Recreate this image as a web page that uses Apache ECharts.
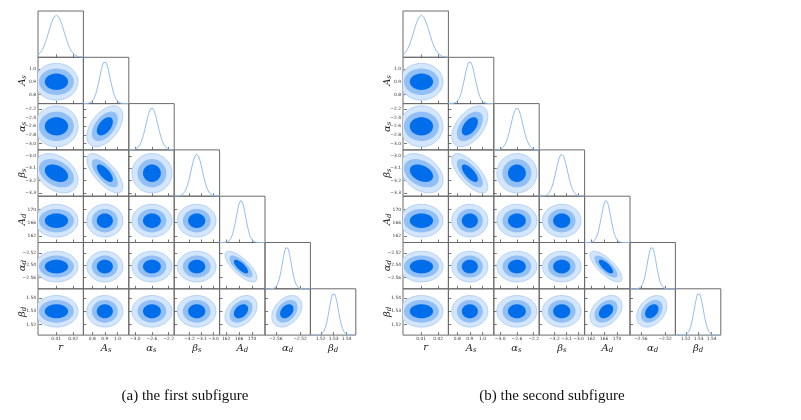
<!DOCTYPE html>
<html>
<head>
<meta charset="utf-8">
<script src="https://cdn.jsdelivr.net/npm/echarts@6/dist/echarts.min.js"></script>
<style>
html, body { margin: 0; padding: 0; background: #fff; }
#chart { width: 801px; height: 420px; }
</style>
</head>
<body>
<div id="chart"></div>
<script>
// parameters: r, A_s, alpha_s, beta_s, A_d, alpha_d, beta_d
var paramLabels = ['{m|r}', '{m|A}{s|s}', '{m|α}{s|s}', '{m|β}{s|s}', '{m|A}{s|d}', '{m|α}{s|d}', '{m|β}{s|d}'];
var axisMin = [-0.0006, 0.73, -3.15, -3.327, 160, -2.578, 1.512];
var axisMax = [0.026, 1.09, -2.07, -2.95, 174, -2.503, 1.547];
var means = [0.0102, 0.9, -2.6, -3.14, 166.6, -2.542, 1.53];
var sigmas = [0.0045, 0.042, 0.14, 0.047, 1.45, 0.0073, 0.0035];
// lower triangle of the correlation matrix
var corrRows = [
    [1],
    [0, 1],
    [0, 0.5, 1],
    [-0.35, -0.7, 0, 1],
    [0, 0, 0, 0, 1],
    [0, 0, 0, 0, -0.75, 1],
    [0, 0, 0, 0, 0.35, 0.35, 1]
];
// contour half-widths in sigma units (outer 99.7%, 95%, inner 68%) per parameter
var contourK = [
    [2.8, 2.27, 1.515],
    [3.4, 2.45, 1.515],
    [3.4, 2.45, 1.515],
    [3.4, 2.45, 1.515],
    [3.4, 2.45, 1.515],
    [3.4, 2.45, 1.515],
    [3.4, 2.45, 1.515]
];
var xTicks = [[0.01, 0.02], [0.8, 0.9, 1.0], [-3.0, -2.6, -2.2], [-3.2, -3.1, -3.0], [162, 166, 170], [-2.56, -2.52], [1.52, 1.53, 1.54]];
var yTicks = [[], [0.8, 0.9, 1.0], [-3.0, -2.8, -2.6, -2.4, -2.2], [-3.3, -3.2, -3.1, -3.0], [162, 166, 170], [-2.56, -2.54, -2.52], [1.52, 1.53, 1.54]];
var tickDecimals = [2, 1, 1, 1, 0, 2, 2];
var contourColors = ['#d4e6fb', '#92bff5', '#006eeb'];
var captions = ['(a) the first subfigure', '(b) the second subfigure'];
var captionX = [185, 552];

var subLeft = [38, 403];
var panelTop = 11;
var panelW = 45.4;
var panelH = 46.3;
var nParams = means.length;

var nameRich = {
    m: { fontFamily: 'DejaVu Serif', fontStyle: 'italic', fontSize: 10, color: '#222' },
    s: { fontFamily: 'DejaVu Serif', fontStyle: 'italic', fontSize: 7, color: '#222', padding: [5, 0, 0, 0] }
};

function fmt(dec) {
    return function (v) { return v.toFixed(dec).replace('-', '\u2212'); };
}

function gauss1d(p) {
    var pts = [];
    var steps = 120;
    for (var k = 0; k <= steps; k++) {
        var x = axisMin[p] + (axisMax[p] - axisMin[p]) * k / steps;
        var z = (x - means[p]) / sigmas[p];
        pts.push([x, Math.exp(-0.5 * z * z)]);
    }
    return pts;
}

function contourRenderer(px, py) {
    var rho = corrRows[py][px];
    return function (params, api) {
        var lv = params.dataIndex;
        var kx = contourK[px][lv], ky = contourK[py][lv];
        var pts = [];
        for (var t = 0; t < 90; t++) {
            var th = t / 90 * Math.PI * 2;
            var u = Math.cos(th), w = Math.sin(th);
            var x = means[px] + kx * sigmas[px] * u;
            var y = means[py] + ky * sigmas[py] * (rho * u + Math.sqrt(1 - rho * rho) * w);
            pts.push(api.coord([x, y]));
        }
        return {
            type: 'polygon',
            shape: { points: pts },
            style: {
                fill: contourColors[lv],
                stroke: lv === 0 ? '#a2c8f5' : null,
                lineWidth: 0.8
            }
        };
    };
}

var grids = [], xAxes = [], yAxes = [], series = [], graphics = [];

for (var f = 0; f < 2; f++) {
    for (var i = 0; i < nParams; i++) {
        for (var j = 0; j <= i; j++) {
            var g = grids.length;
            grids.push({
                left: subLeft[f] + j * panelW,
                top: panelTop + i * panelH,
                width: panelW,
                height: panelH,
                show: true,
                borderColor: '#6a6a6a',
                borderWidth: 1,
                backgroundColor: 'transparent'
            });
            var bottomRow = i === nParams - 1;
            xAxes.push({
                type: 'value', gridIndex: g, min: axisMin[j], max: axisMax[j],
                axisLine: { show: false },
                splitLine: { show: false },
                axisTick: { show: true, inside: true, length: 3, customValues: xTicks[j], lineStyle: { color: '#555', width: 0.8 } },
                axisLabel: { show: bottomRow, customValues: xTicks[j], formatter: fmt(tickDecimals[j]), fontSize: 4.4, color: '#333', margin: 2, fontFamily: 'DejaVu Sans' },
                name: bottomRow ? paramLabels[j] : '',
                nameLocation: 'middle', nameGap: 7, nameMoveOverlap: false,
                nameTextStyle: { rich: nameRich, verticalAlign: 'top' }
            });
            if (i === j) {
                yAxes.push({ type: 'value', gridIndex: g, min: 0, max: 1.1, show: false });
                series.push({
                    type: 'line', xAxisIndex: g, yAxisIndex: g,
                    data: gauss1d(j), symbol: 'none', silent: true,
                    lineStyle: { color: '#8fbcf3', width: 1 }
                });
            } else {
                var leftCol = j === 0;
                yAxes.push({
                    type: 'value', gridIndex: g, min: axisMin[i], max: axisMax[i],
                    axisLine: { show: false },
                    splitLine: { show: false },
                    axisTick: { show: true, inside: true, length: 3, customValues: yTicks[i], lineStyle: { color: '#555', width: 0.8 } },
                    axisLabel: { show: leftCol, customValues: yTicks[i], formatter: fmt(tickDecimals[i]), fontSize: 4.4, color: '#333', margin: 2, fontFamily: 'DejaVu Sans' },
                    name: leftCol ? paramLabels[i] : '',
                    nameLocation: 'middle', nameRotate: 90, nameGap: 10, nameMoveOverlap: false,
                    nameTextStyle: { rich: nameRich }
                });
                series.push({
                    type: 'custom', xAxisIndex: g, yAxisIndex: g, clip: true, silent: true,
                    data: contourColors.map(function (c, idx) { return [idx]; }),
                    renderItem: contourRenderer(j, i)
                });
            }
        }
    }
    graphics.push({
        type: 'text', x: captionX[f], y: 396,
        style: { text: captions[f], font: '15px "Liberation Serif"', fill: '#111', textAlign: 'center', textVerticalAlign: 'middle' }
    });
}

var myChart = echarts.init(document.getElementById('chart'));
myChart.setOption({
    animation: false,
    backgroundColor: '#fff',
    grid: grids,
    xAxis: xAxes,
    yAxis: yAxes,
    series: series,
    graphic: graphics
});
</script>
</body>
</html>
